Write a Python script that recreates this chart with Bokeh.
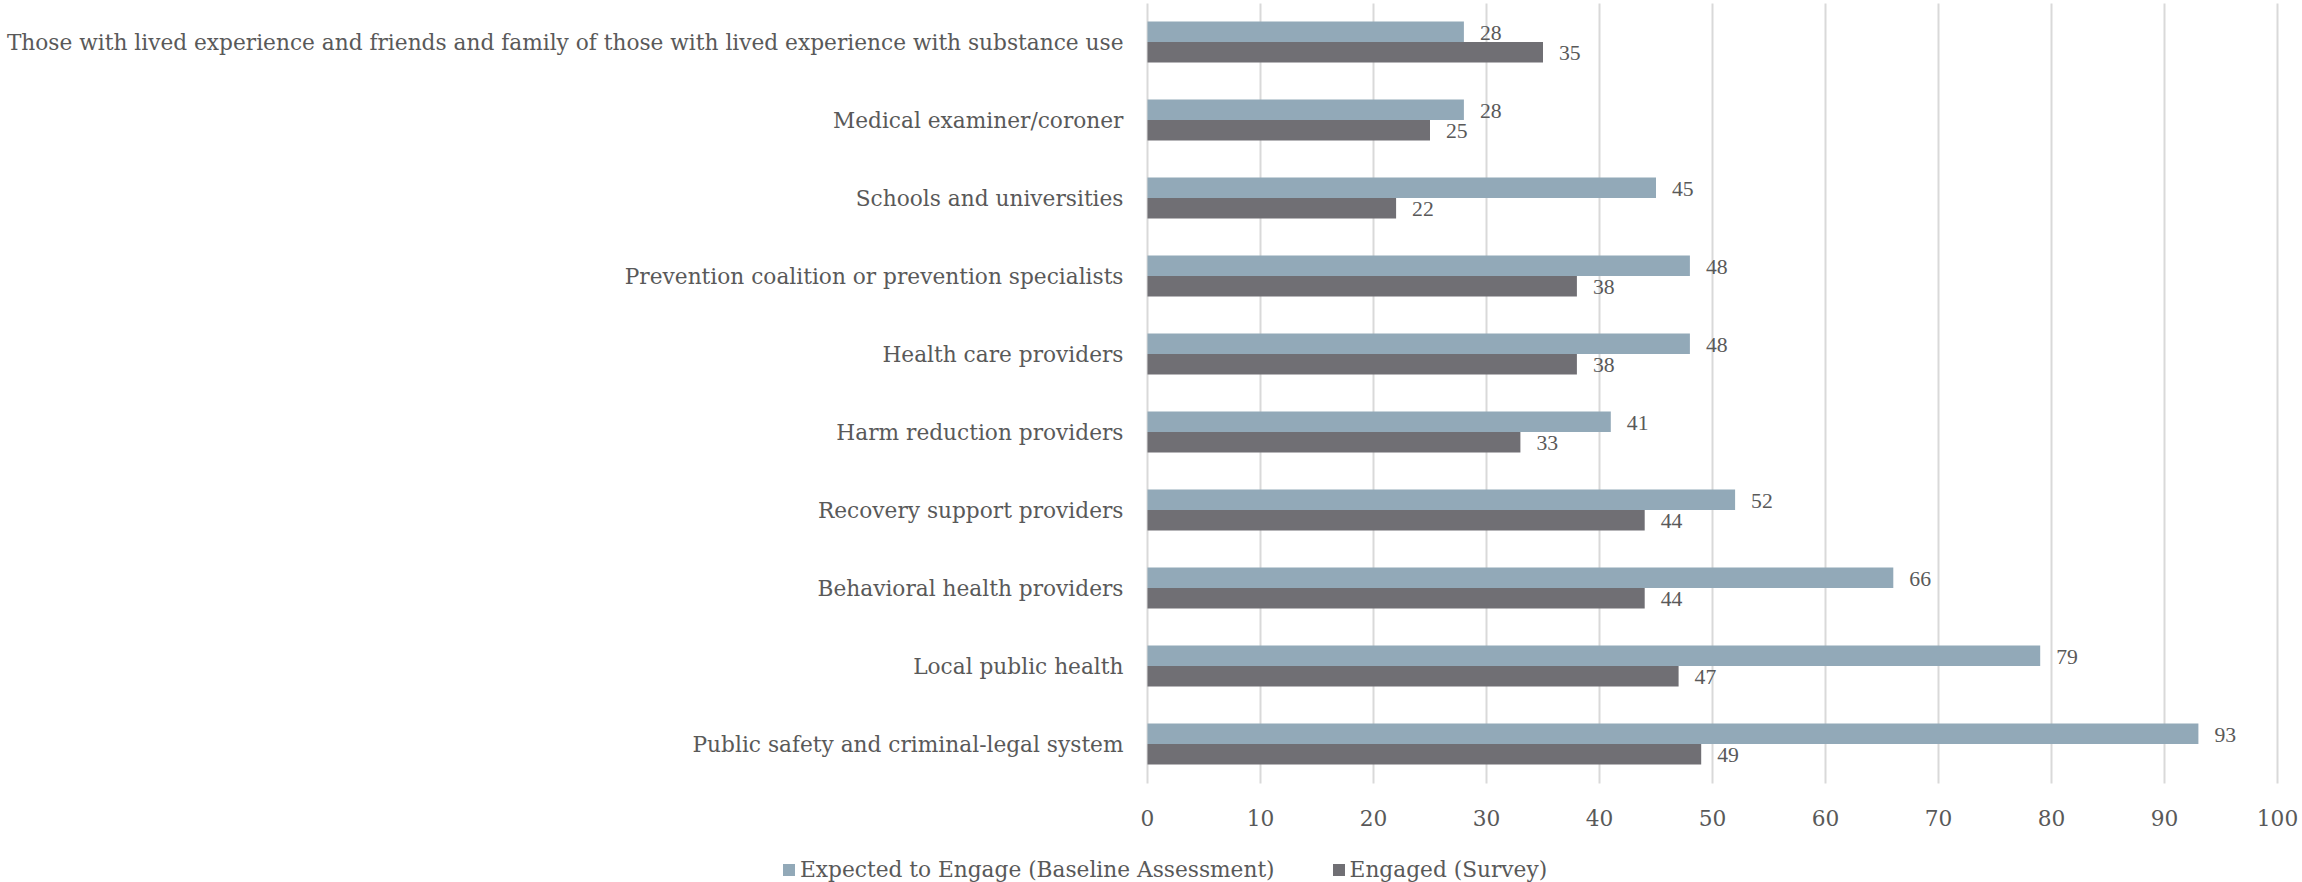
from bokeh.plotting import figure
from bokeh.models import ColumnDataSource, FixedTicker, Range1d, Legend, LegendItem, LabelSet, Grid
from bokeh.embed import file_html
from bokeh.resources import INLINE

# Categories listed bottom to top
categories = [
    "Public safety and criminal-legal system",
    "Local public health",
    "Behavioral health providers",
    "Recovery support providers",
    "Harm reduction providers",
    "Health care providers",
    "Prevention coalition or prevention specialists",
    "Schools and universities",
    "Medical examiner/coroner",
    "Those with lived experience and friends and family of those with lived experience with substance use",
]
expected = [93, 79, 66, 52, 41, 48, 48, 45, 28, 28]
engaged = [49, 47, 44, 44, 33, 38, 38, 22, 25, 35]
x_ticks = [0, 10, 20, 30, 40, 50, 60, 70, 80, 90, 100]
series_names = ["Expected to Engage (Baseline Assessment)", "Engaged (Survey)"]

W, H = 2302, 882
FONT = "DejaVu Serif"
FS = "21.7px"
TXT = "#595959"
C_LIGHT = "#92A9B8"
C_DARK = "#706F74"
GRID = "#d9d9d9"
BAR_H = 0.2625
OFF = 0.131
PX_Y = 78.0                           # pixels per category
PX_X = 11.3                           # pixels per value unit
X0 = 1147                             # pixel position of value 0
TOP = 41.5                            # pixel position of the top category centre
CAT_LO, CAT_HI = -0.5, 9 + 38.5 / PX_Y   # extent of the category area (grid lines)
# the frame covers the whole canvas; axes are drawn at fixed locations inside it
x_range = Range1d(-X0 / PX_X, (W - X0) / PX_X)
y_end = 9 + TOP / PX_Y
y_range = Range1d(y_end - H / PX_Y, y_end)

idx = list(range(len(categories)))
src_e = ColumnDataSource(dict(y=[i + OFF for i in idx], x=expected, lab=[str(v) for v in expected]))
src_g = ColumnDataSource(dict(y=[i - OFF for i in idx], x=engaged, lab=[str(v) for v in engaged]))

p = figure(width=W, height=H, output_backend="svg", toolbar_location=None,
           x_range=x_range, y_range=y_range,
           min_border_left=0, min_border_right=0, min_border_top=0, min_border_bottom=0)
p.outline_line_color = None
p.background_fill_color = "white"
p.border_fill_color = "white"

# vertical grid lines limited to the category area
if "cross_bounds" in Grid.properties():
    p.xgrid.ticker = FixedTicker(ticks=x_ticks)
    p.xgrid.grid_line_color = GRID
    p.xgrid.grid_line_width = 2
    p.xgrid.cross_bounds = (CAT_LO, CAT_HI)
else:
    p.xgrid.grid_line_color = None
    p.segment(x0=x_ticks, x1=x_ticks, y0=[CAT_LO] * len(x_ticks), y1=[CAT_HI] * len(x_ticks),
              line_color=GRID, line_width=2)
p.ygrid.grid_line_color = None

r1 = p.hbar(y="y", right="x", left=0, height=BAR_H, source=src_e, color=C_LIGHT, line_color=None)
r2 = p.hbar(y="y", right="x", left=0, height=BAR_H, source=src_g, color=C_DARK, line_color=None)

for src in (src_e, src_g):
    p.add_layout(LabelSet(x="x", y="y", text="lab", source=src, x_offset=16, y_offset=-1,
                          text_align="left", text_baseline="middle",
                          text_font=FONT, text_font_size=FS, text_color=TXT))

# x axis drawn at the bottom of the category area
p.xaxis.fixed_location = CAT_LO
p.xaxis.ticker = FixedTicker(ticks=x_ticks)
p.xaxis.axis_line_color = None
p.xaxis.major_tick_line_color = None
p.xaxis.minor_tick_line_color = None
p.xaxis.major_tick_out = 0
p.xaxis.major_tick_in = 0
p.xaxis.major_label_standoff = 27
p.xaxis.major_label_text_font = FONT
p.xaxis.major_label_text_font_size = FS
p.xaxis.major_label_text_color = TXT

# category axis drawn at value 0
p.yaxis.fixed_location = 0
p.yaxis.ticker = FixedTicker(ticks=idx)
p.yaxis.major_label_overrides = {i: c for i, c in zip(idx, categories)}
p.yaxis.axis_line_color = None
p.yaxis.major_tick_line_color = None
p.yaxis.minor_tick_line_color = None
p.yaxis.major_tick_out = 0
p.yaxis.major_tick_in = 0
p.yaxis.major_label_standoff = 24
p.yaxis.major_label_text_font = FONT
p.yaxis.major_label_text_font_size = FS
p.yaxis.major_label_text_color = TXT

legend = Legend(items=[LegendItem(label=series_names[0], renderers=[r1]),
                       LegendItem(label=series_names[1], renderers=[r2])],
                orientation="horizontal", location=(781, 0),
                margin=0, padding=0, spacing=56,
                glyph_width=15, glyph_height=15, label_standoff=4,
                label_text_font=FONT, label_text_font_size=FS, label_text_color=TXT,
                background_fill_alpha=0, border_line_color=None)
p.add_layout(legend, "center")

open("out.html", "w").write(file_html(p, INLINE))
